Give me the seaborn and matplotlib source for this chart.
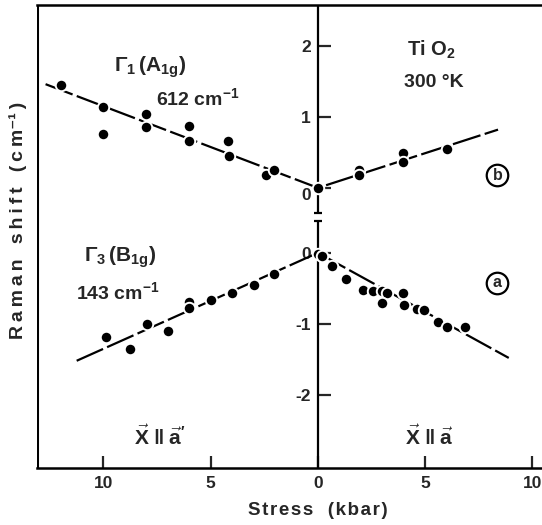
import numpy as np
import pandas as pd
import matplotlib
matplotlib.use("Agg")
import matplotlib.pyplot as plt
import seaborn as sns

sns.set_theme(style="white")
plt.rcParams['font.family'] = ['Liberation Sans', 'DejaVu Sans']
plt.rcParams['font.weight'] = 'bold'
plt.rcParams['mathtext.fontset'] = 'custom'
plt.rcParams['mathtext.rm'] = 'Liberation Sans:bold'
plt.rcParams['mathtext.bf'] = 'Liberation Sans:bold'
plt.rcParams['mathtext.it'] = 'Liberation Sans:bold'
plt.rcParams['mathtext.default'] = 'rm'

# stress in kbar: negative side = X || a', positive side = X || a
a1g_stress = [-12, -10, -10, -8, -8, -6, -6, -4.2, -4.15, -2.4, -2.05, 0, 1.9, 1.9, 3.95, 3.95, 6.0]
a1g_shift = [1.45, 1.14, 0.76, 1.04, 0.86, 0.87, 0.66, 0.66, 0.45, 0.18, 0.25, 0.0, 0.25, 0.18, 0.49, 0.37, 0.55]

b1g_stress = [-9.9, -8.75, -7.95, -6.98, -6.0, -6.0, -4.98, -4.0, -3.0, -2.05,
              0.0, 0.2, 0.65, 1.3, 2.1, 2.56, 3.0, 3.2, 2.98, 3.95, 4.0, 4.6, 4.93, 5.58, 6.0, 6.88]
b1g_shift = [-1.18, -1.35, -1.0, -1.1, -0.69, -0.77, -0.66, -0.57, -0.45, -0.30,
             -0.01, -0.04, -0.18, -0.37, -0.52, -0.54, -0.54, -0.57, -0.71, -0.57, -0.73, -0.79, -0.80, -0.97, -1.05, -1.05]

# fitted lines
a1g_fit_stress = [-12.7, 0, 8.4]
a1g_fit_shift = [1.46, 0, 0.82]
b1g_fit_stress = [-11.25, 0, 8.9]
b1g_fit_shift = [-1.52, 0, -1.48]

# upper panel (b) is drawn above the lower one (a) on the same axis
upper_offset = 0.915

xticks = [-10, -5, 0, 5, 10]
xtick_labels = ['10', '5', '0', '5', '10']
ytick_values = [-2, -1, 0, 0, 1, 2]
ytick_panel = ['a', 'a', 'a', 'b', 'b', 'b']

pts = pd.concat([
    pd.DataFrame({'stress': a1g_stress, 'shift': np.array(a1g_shift) + upper_offset, 'mode': 'A1g'}),
    pd.DataFrame({'stress': b1g_stress, 'shift': b1g_shift, 'mode': 'B1g'}),
])
fits = pd.concat([
    pd.DataFrame({'stress': a1g_fit_stress, 'shift': np.array(a1g_fit_shift) + upper_offset, 'mode': 'A1g'}),
    pd.DataFrame({'stress': b1g_fit_stress, 'shift': b1g_fit_shift, 'mode': 'B1g'}),
])

fig = plt.figure(figsize=(5.42, 5.25), dpi=100)
ax = fig.add_axes([37/542, 1 - 468/525, 1 - 37/542, (468 - 5)/525])

sns.lineplot(data=fits, x='stress', y='shift', units='mode', estimator=None, sort=False,
             color='black', lw=1.6, dashes=False, ax=ax)
for ln in ax.lines:
    ln.set_dashes((13, 2))
sns.scatterplot(data=pts, x='stress', y='shift', color='black', s=68,
                edgecolor='white', linewidth=1.4, zorder=3, ax=ax)

xmin, xmax = -13.1, 10.45
ymin, ymax = -3.03, 3.49
ax.set_xlim(xmin, xmax)
ax.set_ylim(ymin, ymax)

# frame
for side in ['top', 'bottom']:
    ax.spines[side].set_linewidth(1.8)
    ax.spines[side].set_color('black')
ax.spines['right'].set_visible(False)
ax.spines['left'].set_position(('data', 0))
ax.spines['left'].set_visible(False)
ax.axvline(xmin, color='black', lw=2.2)

# central shift axis with a break between the panels
brk_lo, brk_hi = 0.45, 0.56
ax.vlines(0, ymin, brk_lo, color='black', lw=1.6)
ax.vlines(0, brk_hi, ymax, color='black', lw=1.6)
ax.plot([0, 0], [brk_lo, brk_hi], ls='none', marker='_', ms=6, mew=1.6, color='black')

ax.set_xticks(xticks)
ax.set_xticklabels(xtick_labels)
yt = [v + (upper_offset if p == 'b' else 0) for v, p in zip(ytick_values, ytick_panel)]
ax.set_yticks(yt)
ax.set_yticklabels([str(v) for v in ytick_values])
ax.tick_params(axis='x', direction='in', length=9, width=1.6, bottom=True, labelsize=12.5, pad=6)
ax.tick_params(axis='y', direction='in', length=9, width=1.6, left=True, labelsize=12.5, pad=5)
for lab in ax.get_xticklabels() + ax.get_yticklabels():
    lab.set_fontweight('bold')
# the upper zero sits a little below its tick
ax.get_yticklabels()[3].set_va('top')

ax.set_xlabel('S\u200at\u200ar\u200ae\u200as\u200as\u2002 (\u200ak\u200ab\u200aa\u200ar\u200a)',
              fontsize=13.5, fontweight='bold', labelpad=8)
ax.xaxis.label.set_x((0 - xmin) / (xmax - xmin))
ax.set_ylabel('')
fig.text(18/542, 1 - 220/525, 'R\u2009a\u2009m\u2009a\u2009n\u2002 s\u2009h\u2009i\u2009f\u2009t\u2002 (\u2009c\u2009m\u207b\u00b9\u2009)',
         rotation=90, ha='center', va='center', fontsize=14, fontweight='bold')

# annotations
ax.text(-7.8, upper_offset + 1.70, r'$\Gamma_1\,(A_{1g})$', fontsize=15, ha='center', va='center')
ax.text(-5.6, upper_offset + 1.26, r'612 cm$^{-1}$', fontsize=14, ha='center', va='center')
ax.text(5.3, upper_offset + 1.95, r'Ti O$_2$', fontsize=14.5, ha='center', va='center')
ax.text(5.4, upper_offset + 1.48, '300 °K', fontsize=14, ha='center', va='center')
ax.text(-9.2, -0.06, r'$\Gamma_3\,(B_{1g})$', fontsize=15, ha='center', va='center')
ax.text(-9.35, -0.56, r'143 cm$^{-1}$', fontsize=14, ha='center', va='center')
ax.text(-7.35, -2.59, r"$\vec{X}\;\|\;\vec{a}'$", fontsize=15, ha='center', va='center')
ax.text(5.2, -2.59, r'$\vec{X}\;\|\;\vec{a}$', fontsize=15, ha='center', va='center')

for cx, cy, lab in [(8.37, upper_offset + 0.18, 'b'), (8.33, -0.42, 'a')]:
    ax.plot(cx, cy, marker='o', ms=15.5, mfc='none', mec='black', mew=1.6)
    ax.text(cx, cy, lab, fontsize=11.5, ha='center', va='center')

fig.savefig('out.png', dpi=100)
